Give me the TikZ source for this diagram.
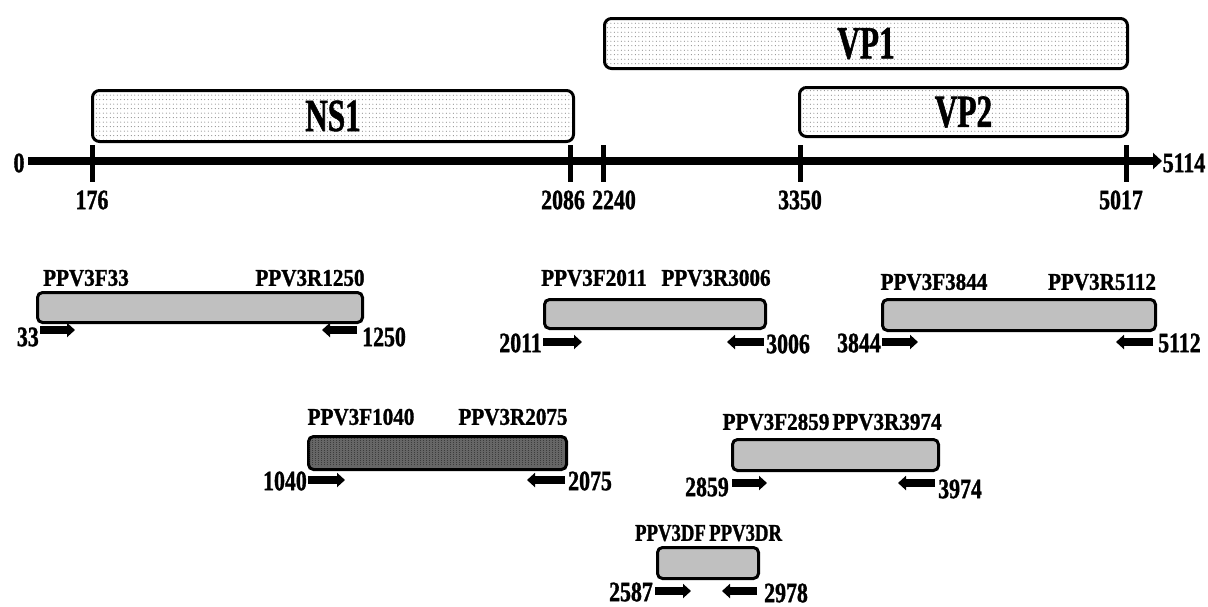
\documentclass[tikz,border=0pt]{standalone}
\usepackage{fontspec}
\setmainfont{Liberation Serif}
\newfontfamily\cond[FakeStretch=0.68,FakeBold=1.2]{Liberation Serif}
\newfontfamily\condn[FakeStretch=0.78,FakeBold=1.2]{Liberation Serif}
\newfontfamily\condb[FakeStretch=0.88,FakeBold=1.2]{Liberation Serif}
\newfontfamily\condc[FakeStretch=0.78,FakeBold=1.2]{Liberation Serif}
\usetikzlibrary{arrows.meta,patterns}
\definecolor{boxgray}{RGB}{192,192,192}
\pgfdeclarepatternformonly{sparsedots}{\pgfpointorigin}{\pgfqpoint{4pt}{4pt}}{\pgfqpoint{3.5pt}{4.5pt}}{%
  \pgfpathcircle{\pgfqpoint{1.75pt}{2.25pt}}{0.5pt}\pgfusepath{fill}}
\pgfdeclarepatternformonly{densestripes}{\pgfpointorigin}{\pgfqpoint{3pt}{2pt}}{\pgfqpoint{3pt}{2pt}}{%
  \pgfpathrectangle{\pgfqpoint{0pt}{0pt}}{\pgfqpoint{1pt}{1pt}}\pgfusepath{fill}}
\begin{document}
\begin{tikzpicture}[x=1pt,y=-1pt,
  gene/.style={draw,line width=3pt,rounded corners=7pt,anchor=north west,inner sep=0pt},
  genefill/.style={pattern=sparsedots,pattern color=black!60},
  genetxt/.style={font=\cond\bfseries\fontsize{46}{46}\selectfont,inner sep=0pt},
  amp/.style={draw,line width=3pt,rounded corners=5pt,fill=boxgray,anchor=north west,inner sep=0pt},
  ampdark/.style={draw,line width=3pt,rounded corners=5pt,fill=black!60,anchor=north west,inner sep=0pt},
  lbl/.style={font=\condb\bfseries\fontsize{24}{24}\selectfont,inner sep=0pt},
  lblc/.style={font=\condc\bfseries\fontsize{24}{24}\selectfont,inner sep=0pt},
  num/.style={font=\condn\bfseries\fontsize{28}{28}\selectfont,inner sep=0pt},
  axlbl/.style={font=\condn\bfseries\fontsize{28}{28}\selectfont,inner sep=0pt},
  tick/.style={line width=5pt},
  prim/.style={line width=8pt,-{Triangle[length=8pt,width=14pt]}},
  axis/.style={line width=8pt,-{Triangle[length=9pt,width=16pt]}}
]
\useasboundingbox (0,0) rectangle (1208,606);

% gene boxes
\fill[genefill,rounded corners=7pt] (91,89) rectangle (572,140);
\node[gene,minimum width=481pt,minimum height=51pt] (ns1) at (91,89) {};
\node[genetxt] at (ns1.center) {NS1};
\fill[genefill,rounded corners=7pt] (603,17) rectangle (1126,67);
\node[gene,minimum width=523pt,minimum height=50pt] (vp1) at (603,17) {};
\node[genetxt] at (vp1.center) {VP1};
\fill[genefill,rounded corners=7pt] (798,86) rectangle (1126,135);
\node[gene,minimum width=328pt,minimum height=49pt] (vp2) at (798,86) {};
\node[genetxt] at (vp2.center) {VP2};

% axis
\coordinate (a0) at (28,161);
\coordinate (a1) at (1162,161);
\draw[axis] (a0) -- (a1);
\node[axlbl] (l0) at (19,163) {0};
\node[axlbl] (lend) at (1184,163) {5114};
\foreach \x/\n/\lx in {92/176/92, 570/2086/563, 603/2240/614, 800/3350/800, 1126/5017/1121}{
  \coordinate (t\n a) at (\x,145);
  \coordinate (t\n b) at (\x,182);
  \draw[tick] (t\n a) -- (t\n b);
  \node[axlbl] (lab\n) at (\lx,200) {\n};
}

% amplicon 1
\node[amp,minimum width=325pt,minimum height=30pt] (b1) at (36,291) {};
\node[lbl] (f1) at (86,278) {PPV3F33};
\node[lbl] (r1) at (310,278) {PPV3R1250};
\coordinate (b1fs) at (40,330); \coordinate (b1fe) at (75,330);
\coordinate (b1rs) at (357,330); \coordinate (b1re) at (322,330);
\draw[prim] (b1fs) -- (b1fe);
\draw[prim] (b1rs) -- (b1re);
\node[num,anchor=east] (n1a) at (39,337) {33};
\node[num,anchor=west] (n1b) at (362,337) {1250};

% amplicon 2
\node[amp,minimum width=221pt,minimum height=29pt] (b2) at (543,298) {};
\node[lbl] (f2) at (594,278) {PPV3F2011};
\node[lbl] (r2) at (716,278) {PPV3R3006};
\coordinate (b2fs) at (543,342); \coordinate (b2fe) at (582,342);
\coordinate (b2rs) at (764,342); \coordinate (b2re) at (727,342);
\draw[prim] (b2fs) -- (b2fe);
\draw[prim] (b2rs) -- (b2re);
\node[num,anchor=east] (n2a) at (542,343) {2011};
\node[num,anchor=west] (n2b) at (766,344) {3006};

% amplicon 3
\node[amp,minimum width=273pt,minimum height=31pt] (b3) at (881,298) {};
\node[lbl] (f3) at (934,282) {PPV3F3844};
\node[lbl] (r3) at (1102,282) {PPV3R5112};
\coordinate (b3fs) at (882,342); \coordinate (b3fe) at (918,342);
\coordinate (b3rs) at (1153,342); \coordinate (b3re) at (1116,342);
\draw[prim] (b3fs) -- (b3fe);
\draw[prim] (b3rs) -- (b3re);
\node[num,anchor=east] (n3a) at (881,343) {3844};
\node[num,anchor=west] (n3b) at (1158,343) {5112};

% amplicon 4 (dark)
\node[ampdark,minimum width=258pt,minimum height=33pt] (b4) at (307,435) {};
\fill[pattern=densestripes,pattern color=black!85,rounded corners=4pt] (309,437) rectangle (563,466);
\node[lbl] (f4) at (361,417) {PPV3F1040};
\node[lbl] (r4) at (513,417) {PPV3R2075};
\coordinate (b4fs) at (308,480); \coordinate (b4fe) at (345,480);
\coordinate (b4rs) at (565,480); \coordinate (b4re) at (527,480);
\draw[prim] (b4fs) -- (b4fe);
\draw[prim] (b4rs) -- (b4re);
\node[num,anchor=east] (n4a) at (307,481) {1040};
\node[num,anchor=west] (n4b) at (568,481) {2075};

% amplicon 5
\node[amp,minimum width=206pt,minimum height=31pt] (b5) at (731,438) {};
\node[lbl] (f5) at (776,422) {PPV3F2859};
\node[lbl] (r5) at (887,422) {PPV3R3974};
\coordinate (b5fs) at (732,483); \coordinate (b5fe) at (767,483);
\coordinate (b5rs) at (935,483); \coordinate (b5re) at (898,483);
\draw[prim] (b5fs) -- (b5fe);
\draw[prim] (b5rs) -- (b5re);
\node[num,anchor=east] (n5a) at (729,487) {2859};
\node[num,anchor=west] (n5b) at (938,489) {3974};

% amplicon 6
\node[amp,minimum width=101pt,minimum height=31pt] (b6) at (656,546) {};
\node[lblc,anchor=east] (f6) at (706,533) {PPV3DF};
\node[lblc,anchor=west] (r6) at (709,533) {PPV3DR};
\coordinate (b6fs) at (655,591); \coordinate (b6fe) at (691,591);
\coordinate (b6rs) at (757,591); \coordinate (b6re) at (722,591);
\draw[prim] (b6fs) -- (b6fe);
\draw[prim] (b6rs) -- (b6re);
\node[num,anchor=east] (n6a) at (653,592) {2587};
\node[num,anchor=west] (n6b) at (764,593) {2978};
\end{tikzpicture}
\end{document}
